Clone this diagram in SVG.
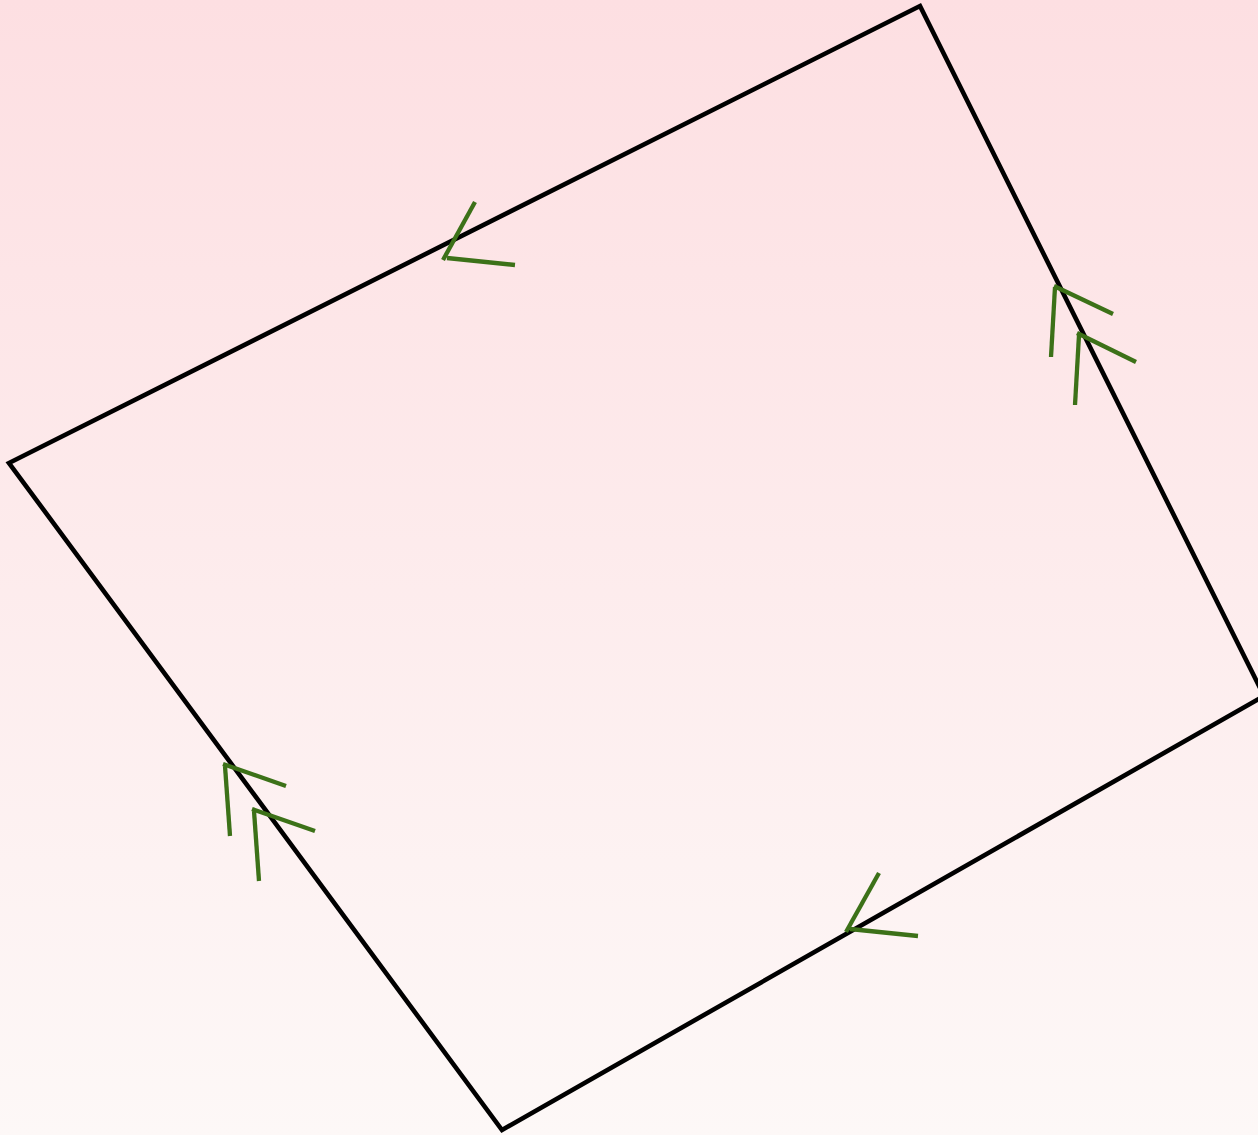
<svg xmlns="http://www.w3.org/2000/svg" width="1258" height="1135" viewBox="0 0 1258 1135">
  <defs>
    <linearGradient id="bg" x1="0" y1="0" x2="0" y2="1">
      <stop offset="0" stop-color="#fddfe2"/>
      <stop offset="1" stop-color="#fdf8f7"/>
    </linearGradient>
    <style>
      .edge { fill: none; stroke: #000; stroke-width: 4.6; stroke-linejoin: miter; }
      .mark { stroke: #3c7118; stroke-width: 4.3; fill: none; }
    </style>
  </defs>
  <rect x="0" y="0" width="1258" height="1135" fill="url(#bg)"/>
  <g id="quadrilateral">
    <polygon class="edge" points="920,6 1264,696 502,1130 9,463"/>
  </g>
  <g id="marks">
    <g id="mark-top">
      <line class="mark" x1="475" y1="202" x2="443" y2="260"/>
      <line class="mark" x1="447" y1="258" x2="515" y2="265"/>
    </g>
    <g id="mark-right">
      <line class="mark" x1="1055" y1="287" x2="1051" y2="357"/>
      <line class="mark" x1="1054" y1="286" x2="1113" y2="314"/>
      <line class="mark" x1="1079" y1="335" x2="1075" y2="405"/>
      <line class="mark" x1="1077" y1="333" x2="1136" y2="362"/>
    </g>
    <g id="mark-left">
      <line class="mark" x1="225" y1="766" x2="230" y2="836"/>
      <line class="mark" x1="223" y1="764" x2="286" y2="786"/>
      <line class="mark" x1="254" y1="811" x2="259" y2="881"/>
      <line class="mark" x1="252" y1="809" x2="315" y2="831"/>
    </g>
    <g id="mark-bottom">
      <line class="mark" x1="879" y1="873" x2="846" y2="932"/>
      <line class="mark" x1="850" y1="929" x2="918" y2="936"/>
    </g>
  </g>
</svg>
